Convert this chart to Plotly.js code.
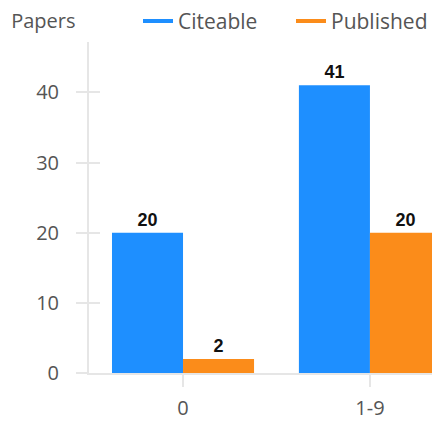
<!DOCTYPE html>
<html>
<head>
<meta charset="utf-8">
<script src="https://cdn.plot.ly/plotly-3.0.1.min.js"></script>
<style>html,body{margin:0;padding:0;background:#fff;overflow:hidden;}</style>
</head>
<body>
<div id="chart" style="width:432px;height:445px;"></div>
<script>
var categories = ['0', '1-9'];
var citeable = [20, 41];
var published = [2, 20];
var seriesNames = ['Citeable', 'Published'];
var yTicks = [0, 10, 20, 30, 40];

var blue = '#1E8FFF';
var orange = '#FB8C1A';
var grey = '#E6E6E6';
var labelColor = '#555555';
var font = 'Open Sans, Noto Sans, sans-serif';

var traces = [
  {type: 'bar', x: categories, y: citeable, name: seriesNames[0], marker: {color: blue},
   text: citeable.map(String), textposition: 'outside', cliponaxis: false,
   textfont: {family: 'Liberation Sans, Arial, sans-serif', size: 18, color: '#111', weight: 'bold'},
   showlegend: false, hoverinfo: 'none'},
  {type: 'bar', x: categories, y: published, name: seriesNames[1], marker: {color: orange},
   text: published.map(String), textposition: 'outside', cliponaxis: false,
   textfont: {family: 'Liberation Sans, Arial, sans-serif', size: 18, color: '#111', weight: 'bold'},
   showlegend: false, hoverinfo: 'none'},
  {type: 'scatter', mode: 'lines', x: [null], y: [null], name: seriesNames[0],
   line: {color: blue, width: 4}, showlegend: true, legend: 'legend'},
  {type: 'scatter', mode: 'lines', x: [null], y: [null], name: seriesNames[1],
   line: {color: orange, width: 4}, showlegend: true, legend: 'legend2'},
  {type: 'scatter', mode: 'lines', x: [null], y: [null], yaxis: 'y2', showlegend: false, hoverinfo: 'none'}
];

var legendFont = {family: font, size: 21, color: labelColor};
var layout = {
  width: 432, height: 445,
  margin: {l: 89, r: 0, t: 40, b: 72},
  paper_bgcolor: '#fff', plot_bgcolor: '#fff',
  font: {family: font, size: 20, color: labelColor},
  barmode: 'group', bargap: 0.24, bargroupgap: 0,
  title: {text: 'Papers', x: 0.026, xanchor: 'left', xref: 'container', y: 0.953, yanchor: 'middle', yref: 'container',
          font: {family: font, size: 20, color: labelColor}},
  showlegend: true,
  legend: {orientation: 'h', x: 138 / 432, xanchor: 'left', xref: 'container', y: 0.952, yanchor: 'middle', yref: 'container',
           font: legendFont, bgcolor: 'rgba(0,0,0,0)'},
  legend2: {orientation: 'h', x: 291 / 432, xanchor: 'left', xref: 'container', y: 0.952, yanchor: 'middle', yref: 'container',
           font: legendFont, bgcolor: 'rgba(0,0,0,0)'},
  xaxis: {type: 'category', range: [-0.503, 1.332], showline: true, linecolor: grey, linewidth: 2,
          ticks: 'outside', ticklen: 12, tickcolor: grey, tickwidth: 2, showgrid: false, zeroline: false,
          ticklabelstandoff: 4, tickfont: {family: font, size: 20, color: labelColor}, fixedrange: true},
  yaxis: {range: [0, 47.2], tickvals: yTicks, showline: true, linecolor: grey, linewidth: 2,
          ticks: 'outside', ticklen: 11, tickcolor: grey, tickwidth: 2, showgrid: false, zeroline: false,
          ticklabelstandoff: 13, tickfont: {family: font, size: 20, color: labelColor}, fixedrange: true},
  yaxis2: {overlaying: 'y', matches: 'y', range: [0, 47.2], tickvals: yTicks, side: 'left', showline: false,
           ticks: 'inside', ticklen: 11, tickcolor: grey, tickwidth: 2, showgrid: false, zeroline: false,
           showticklabels: false, fixedrange: true}
};

Plotly.newPlot('chart', traces, layout, {displayModeBar: false, staticPlot: true});
</script>
</body>
</html>
